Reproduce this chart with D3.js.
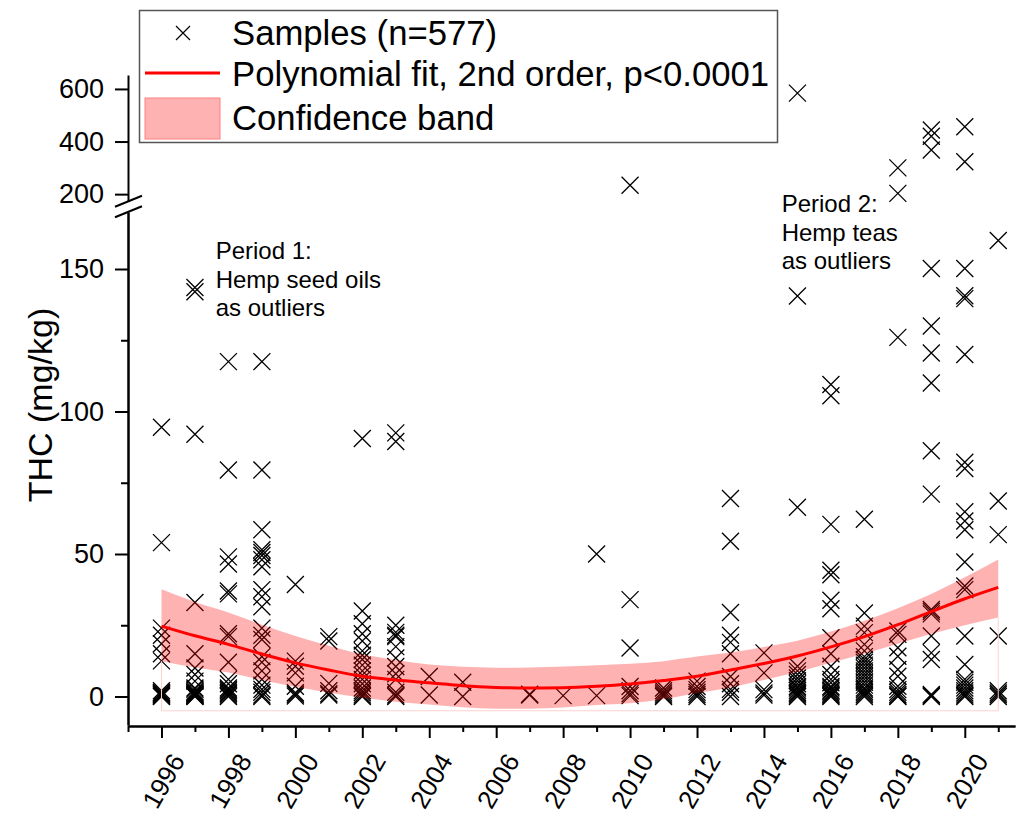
<!DOCTYPE html>
<html>
<head>
<meta charset="utf-8">
<script src="https://d3js.org/d3.v7.min.js"></script>
<style>
body{margin:0;background:#fff;}
text{font-family:"Liberation Sans", Arial, sans-serif;fill:#000;}
</style>
</head>
<body>
<div id="chart"></div>
<script>
//data
var years = [1996,1997,1998,1999,2000,2001,2002,2003,2004,2005,2006,2007,2008,
  2009,2010,2011,2012,2013,2014,2015,2016,2017,2018,2019,2020,2021];

// THC values (mg/kg), one list per year
var samples = [
  [94.5,54,24,21.5,18.5,15,12.5,2,1.5,1,0.5,0.2,0,0.8,1.2],
  [143.5,142,92,33,15,10,7.7,5.4,3,2.5,1.8,1.2,0.7,0.5,0.2,0,0.3,1,1.5],
  [117.5,79.5,49,46.5,37,36,22,21,12,6,4.5,3,2.5,2,1.5,1,0.5,0],
  [117.5,79.5,58.5,51.5,50.5,49.5,48,45.5,37.5,35,31.5,24,21.5,20,14,12,9,6,4,2.5,1.5,0.5,0],
  [39.3,12.4,10.6,8.3,3.6,1.3,0.8,0.2],
  [21,19.5,4.6,2,1,0.5],
  [90.5,30,25.5,22,19.5,16,14.5,13,11,9,7.5,6,4.5,3,2,1.3,0.5,0],
  [92.5,89.5,25,22.5,21.5,21,17.5,13.5,10.5,8,6,1.5,0.5,0],
  [7,0.5],
  [5,0],
  [],
  [0.5,0.8],
  [0.3],
  [50,0.3],
  [234,34,17,3.5,2,1,0.3],
  [3,2,1.2,0.5,0],
  [5.4,3.5,2.4,1.5,0.7,0],
  [69.5,54.5,29.5,21.5,19,15,7,4.5,2.5,1.5,0],
  [15.3,8.3,2.4,1.2,0.5],
  [584,140.5,66.4,10.6,9,7.7,6.5,5.5,4.5,3.5,3,2.2,1.5,1,0.5,0],
  [109.5,105.5,60.4,44.3,42.7,33.8,30.8,20.6,15,10.6,7.7,6,4.8,3.5,3,2.2,1.8,1.2,0.7,0.3,0],
  [62.2,29.3,24.7,22.4,18.3,16,14,13,12,11,10,9,8,7,6,5,4,3,2.4,1.8,1.2,0.6,0],
  [300,203,126,23,21.8,17.1,14.1,9.5,7.1,3.6,2.4,1.5,0.7,0.2,0],
  [444,420,368,150.2,130,120.5,110,86.2,71,30.5,29.8,29,21.2,15.3,13,0.7,0.3,0],
  [456,323,150.2,140.6,139.6,120,82.2,80,64.8,61.6,58.5,47.2,38.8,37.5,21.2,11.2,6,5,4,3,2,1.2,0.5,0],
  [160,68.6,56.8,21.2,2,1.2,0.6,0]
];

var fitValues = [24.7,21.3,18.3,14.9,11.8,9.3,7.1,5.8,4.8,3.8,3.2,3.0,3.1,3.6,4.4,
  5.6,7.1,9.3,11.6,14.2,17.4,21.0,25.2,29.8,34.3,38.3];
var bandUpper = [37.6,33.2,29.5,25.2,21.2,17.8,14.8,12.8,11.2,10.4,10.1,10.2,10.5,
  11,11.5,12.4,14.0,15.4,17.4,19.6,22.8,26.6,31,36,41.8,48.1];
var bandLower = [12.4,10.2,8.4,5.8,3.4,1.3,-0.4,-1.8,-2.8,-3.8,-4.3,-4.3,-3.9,
  -3.0,-2.4,-1.0,1.2,3.2,5.8,8.6,11.8,15,18.5,22,25,27.7];
var bandFloor = -5;

var lowTicks = [0,50,100,150];
var lowMinor = [25,75,125];
var upTicks = [200,400,600];
var xLabels = [1996,1998,2000,2002,2004,2006,2008,2010,2012,2014,2016,2018,2020];
var xMinor = [1995,1997,1999,2001,2003,2005,2007,2009,2011,2013,2015,2017,2019,2021];

var legendText = ["Samples (n=577)","Polynomial fit, 2nd order, p<0.0001","Confidence band"];
var note1 = ["Period 1:","Hemp seed oils","as outliers"];
var note2 = ["Period 2:","Hemp teas","as outliers"];
var yTitle = "THC (mg/kg)";

var w = 1020, h = 816;
var svg = d3.select("#chart").append("svg").attr("width",w).attr("height",h);

var x = d3.scaleLinear().domain([1995,2021.5]).range([128,1015]);
var yLow = d3.scaleLinear().domain([-10,170]).range([725,212]);
var yUp = d3.scaleLinear().domain([172,653]).range([201.5,75]);
var yAny = (v)=> v > 171 ? yUp(v) : yLow(v);

var crossPath = (r)=> "M"+(-r)+","+(-r)+"L"+r+","+r+"M"+(-r)+","+r+"L"+r+","+(-r);

//scatter
var pts = [];
samples.forEach((list,i)=>{
  list.forEach((v)=> pts.push([years[i],v]));
});
svg.append("g").selectAll("path")
  .data(pts)
  .enter()
  .append("path")
  .attr("d", crossPath(8.5))
  .attr("transform",(d)=>"translate("+x(d[0])+","+yAny(d[1])+")")
  .attr("fill","none")
  .attr("stroke","#000")
  .attr("stroke-width",1.3);

//confidence band on top of the crosses
var band = d3.area()
  .x((d,i)=>x(years[i]))
  .y0((d,i)=>yLow(bandLower[i]))
  .y1((d)=>yLow(d))
  .curve(d3.curveMonotoneX);
svg.append("path")
  .datum(bandUpper)
  .attr("d",band)
  .attr("fill","rgb(255,0,0)")
  .attr("fill-opacity",0.3);

// faint outline left by the band down to its floor
var i0 = 0, i1 = years.length-1;
svg.append("path")
  .attr("d","M"+x(years[i0])+","+yLow(bandLower[i0])+"V"+yLow(bandFloor)+
    "H"+x(years[i1])+"V"+yLow(bandLower[i1]))
  .attr("fill","none")
  .attr("stroke","#ffd0d0")
  .attr("stroke-width",1);

var fitLine = d3.line()
  .x((d,i)=>x(years[i]))
  .y((d)=>yLow(d))
  .curve(d3.curveMonotoneX);
svg.append("path")
  .datum(fitValues)
  .attr("d",fitLine)
  .attr("fill","none")
  .attr("stroke","#ff0000")
  .attr("stroke-width",3);

//axes
function styleAxis(g){
  g.selectAll("path,line").attr("stroke","#000").attr("stroke-width",2);
  g.selectAll("text").attr("font-size",27).attr("font-family","Liberation Sans, Arial, sans-serif");
}

var yLowAxis = svg.append("g").attr("transform","translate(128,0)")
  .call(d3.axisLeft(yLow).tickValues(lowTicks).tickSize(13).tickSizeOuter(0).tickPadding(11));
styleAxis(yLowAxis);
var yLowMinor = svg.append("g").attr("transform","translate(128,0)")
  .call(d3.axisLeft(yLow).tickValues(lowMinor).tickSize(7).tickSizeOuter(0).tickFormat(""));
styleAxis(yLowMinor);

var yUpAxis = svg.append("g").attr("transform","translate(128,0)")
  .call(d3.axisLeft(yUp).tickValues(upTicks).tickSize(13).tickSizeOuter(0).tickPadding(11));
styleAxis(yUpAxis);

// break marks
[yUp.range()[0], yLow.range()[1]].forEach((yy)=>{
  svg.append("line")
    .attr("x1",128-13).attr("y1",yy+5.3)
    .attr("x2",128+14).attr("y2",yy-5.7)
    .attr("stroke","#000").attr("stroke-width",2);
});

var xAxisY = 726;
var xAxis = svg.append("g").attr("transform","translate(0,"+xAxisY+")")
  .call(d3.axisBottom(x).tickValues(xLabels).tickSize(12).tickSizeOuter(0).tickFormat(""));
styleAxis(xAxis);
var xMinorAxis = svg.append("g").attr("transform","translate(0,"+xAxisY+")")
  .call(d3.axisBottom(x).tickValues(xMinor).tickSize(6).tickSizeOuter(0).tickFormat(""));
styleAxis(xMinorAxis);

svg.append("g").selectAll("text")
  .data(xLabels)
  .enter()
  .append("text")
  .attr("transform",(d)=>"translate("+(x(d)+2)+",781) rotate(-60)")
  .attr("text-anchor","middle")
  .attr("dy","0.35em")
  .attr("font-size",26)
  .text((d)=>d);

svg.append("text")
  .attr("transform","translate(40,405) rotate(-90)")
  .attr("text-anchor","middle")
  .attr("dy","0.35em")
  .attr("font-size",34)
  .text(yTitle);

//annotations
function note(lines, yr, v){
  var t = svg.append("text")
    .attr("x",x(yr)).attr("y",yLow(v))
    .attr("font-size",24);
  lines.forEach((s,k)=>{
    t.append("tspan").attr("x",x(yr)).attr("dy",k==0?0:28.5).text(s);
  });
}
note(note1, 1997.62, 153.5);
note(note2, 2014.53, 169.9);

//legend
var lg = svg.append("g");
lg.append("rect")
  .attr("x",139.5).attr("y",10.5).attr("width",638).attr("height",132)
  .attr("fill","#fff").attr("stroke","#555").attr("stroke-width",1.5);
lg.append("path")
  .attr("d",crossPath(7))
  .attr("transform","translate(183,33)")
  .attr("fill","none").attr("stroke","#000").attr("stroke-width",1.2);
lg.append("line")
  .attr("x1",145).attr("x2",220).attr("y1",73).attr("y2",73)
  .attr("stroke","#ff0000").attr("stroke-width",3);
lg.append("rect")
  .attr("x",145).attr("y",98).attr("width",75).attr("height",41)
  .attr("fill","rgb(255,0,0)").attr("fill-opacity",0.3)
  .attr("stroke","#ff8080").attr("stroke-width",1);
lg.selectAll("text.lg")
  .data(legendText)
  .enter()
  .append("text")
  .attr("class","lg")
  .attr("x",232)
  .attr("y",(d,i)=>[45,86,130][i])
  .attr("font-size",34.7)
  .text((d)=>d);
</script>
</body>
</html>
